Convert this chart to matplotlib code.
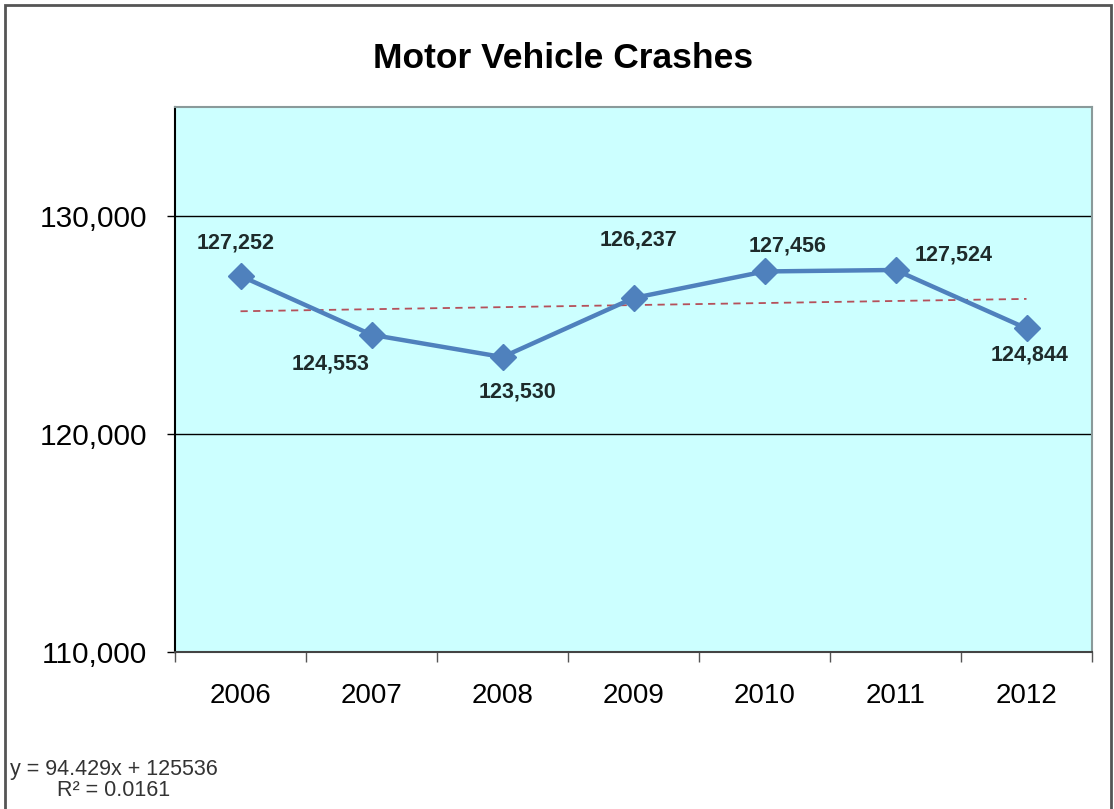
import matplotlib.pyplot as plt
import numpy as np
from matplotlib.patches import Rectangle
from matplotlib.ticker import FuncFormatter

plt.rcParams['font.family'] = ['Liberation Sans', 'DejaVu Sans']

# dados do grafico
anos = ['2006', '2007', '2008', '2009', '2010', '2011', '2012']
acidentes = [127252, 124553, 123530, 126237, 127456, 127524, 124844]
y_ticks = [110000, 120000, 130000]

# deslocamento dos rotulos (pixels)
desloc = [(-5, 33), (-41, -29), (15, -35), (5, 58), (23, 25), (58, 15), (3, -27)]

x = np.arange(1, len(anos) + 1)
a, b = np.polyfit(x, acidentes, 1)
ajuste = a * x + b
r2 = 1 - np.sum((np.array(acidentes) - ajuste) ** 2) / np.sum((np.array(acidentes) - np.mean(acidentes)) ** 2)

fig = plt.figure(figsize=(11.14, 8.09), dpi=100)
ax = fig.add_axes([175 / 1114, 1 - 652 / 809, 917 / 1114, 545 / 809])
ax.set_facecolor('#CCFFFF')

ax.plot(x, ajuste, linestyle=(0, (4, 3)), color='#B5505A', lw=1.3, zorder=2)
ax.plot(x, acidentes, color='#4F81BD', lw=3.2, marker='D', markersize=13, zorder=3)

for xi, v, d in zip(x, acidentes, desloc):
    ax.annotate(f'{v:,}', (xi, v), xytext=d, textcoords='offset pixels',
                ha='center', va='center', fontsize=15.5, fontweight='bold', color='#1E2B2B')

ax.set_xlim(0.5, len(anos) + 0.5)
ax.set_ylim(110000, 135000)
ax.set_yticks(y_ticks)
ax.yaxis.set_major_formatter(FuncFormatter(lambda v, p: f'{int(v):,}'))
ax.tick_params(axis='y', length=6, width=1, pad=14, labelsize=21.5)
ax.yaxis.grid(True, color='black', lw=1)
ax.set_axisbelow(True)

ax.set_xticks(np.arange(0.5, len(anos) + 1, 1))
ax.set_xticklabels([])
ax.set_xticks(x, minor=True)
ax.set_xticklabels(anos, minor=True)
ax.tick_params(axis='x', which='major', length=7, width=1, color='#555555')
ax.tick_params(axis='x', which='minor', length=0, pad=22, labelsize=20)

ax.spines['left'].set_color('black')
ax.spines['bottom'].set_color('#444444')
ax.spines['top'].set_color('#8A9A9A')
ax.spines['right'].set_color('#8A9A9A')
for s in ax.spines.values():
    s.set_linewidth(1.5)

fig.text(563 / 1114, 1 - 59 / 809, 'Motor Vehicle Crashes', ha='center', va='center',
         fontsize=25.5, fontweight='bold')

fig.text(114 / 1114, 1 - 780 / 809, f'y = {a:.3f}x + {b:.0f}\nR² = {r2:.4f}', ha='center',
         va='center', multialignment='center', fontsize=15.5, color='#333333', linespacing=1.0)

fig.patches.append(Rectangle((5 / 1114, -0.05), 1106 / 1114, 1.05 - 5 / 809,
                             transform=fig.transFigure, fill=False, edgecolor='#555555', lw=2))

fig.savefig('out.png', dpi=100)
